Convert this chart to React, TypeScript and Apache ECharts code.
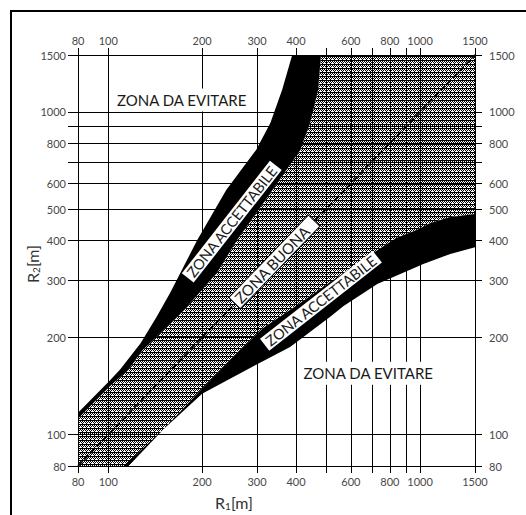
import { useEffect, useRef } from "react";
import * as echarts from "echarts";

// Axis range (both axes are logarithmic, in metres)
const R_MIN = 80;
const R_MAX = 1500;

// Grid lines and labelled values
const xGridValues = [80, 100, 200, 300, 400, 500, 600, 700, 800, 900, 1000, 1500];
const xLabelValues = [80, 100, 200, 300, 400, 600, 800, 1000, 1500];
const yGridValues = [80, 100, 200, 300, 400, 500, 600, 700, 800, 900, 1000, 1500];
const yLabelValues = [80, 100, 200, 300, 400, 500, 600, 800, 1000, 1500];

// Upper "acceptable" band: outer (left) edge and inner edge, [R1, R2]
const upperBandOuter = [
  [80, 117], [101, 147], [109, 159], [127, 192], [143, 232], [158, 275],
  [193, 401], [239, 573], [298, 762], [331, 924], [361, 1169], [389, 1500],
];
const upperBandInner = [
  [80, 112], [101, 141], [116, 159], [129, 183], [143, 201], [179, 249],
  [223, 317], [259, 401], [328, 553], [413, 762], [444, 924], [471, 1169], [481, 1500],
];

// Lower "acceptable" band: inner (upper) edge and outer (lower) edge, [R1, R2]
const lowerBandInner = [
  [116, 80], [152, 105], [200, 139], [265, 183], [314, 214], [404, 252],
  [515, 297], [657, 348], [729, 373], [839, 407], [979, 431], [1078, 453],
  [1250, 472], [1500, 483],
];
const lowerBandOuter = [
  [112, 80], [200, 134], [296, 164], [383, 187], [515, 232], [567, 250],
  [729, 293], [1024, 338], [1250, 363], [1500, 381],
];

// Equal-radius diagonal R1 = R2
const diagonal = [[R_MIN, R_MIN], [R_MAX, R_MAX]];

// Zone captions and where they sit, [R1, R2]
const zoneLabels = ["ZONA DA EVITARE", "ZONA DA EVITARE", "ZONA ACCETTABILE", "ZONA ACCETTABILE", "ZONA BUONA"];
const zoneLabelR1 = [172, 682, 249, 481, 341];
const zoneLabelR2 = [1088, 155, 457, 260, 343];

const labelLook = [
  { angle: 0, size: 15, padding: [4, 4, 4, 4], border: 0 },
  { angle: 0, size: 15, padding: [4, 4, 4, 4], border: 0 },
  { angle: 52, size: 14.5, padding: [0, 3, 0, 3], border: 0 },
  { angle: 38, size: 14.5, padding: [0, 3, 0, 3], border: 0 },
  { angle: 46, size: 15, padding: [0, 10, 0, 3], border: 1 },
];

const FONT = "Lato, 'Noto Sans', sans-serif";

// Halftone tile for the "good" zone: a solid row followed by offset dot rows
function makeStippleTile(): HTMLCanvasElement {
  const rows = ["1111", "1010", "0101", "0010"];
  const c = document.createElement("canvas");
  c.width = 4;
  c.height = rows.length;
  const ctx = c.getContext("2d")!;
  ctx.fillStyle = "#fff";
  ctx.fillRect(0, 0, c.width, c.height);
  ctx.fillStyle = "#000";
  rows.forEach((row, y) => {
    for (let x = 0; x < row.length; x++) if (row[x] === "1") ctx.fillRect(x, y, 1, 1);
  });
  return c;
}

export default function App() {
  const ref = useRef<HTMLDivElement>(null);

  useEffect(() => {
    const el = ref.current;
    if (!el) return;
    const chart = echarts.init(el, null, { renderer: "svg" });
    const tile = makeStippleTile();

    const fmt = (v: number) => String(Math.round(v));
    const lineStyle = { color: "#000", width: 1 };
    const labelStyle = { color: "#484848", fontSize: 11, fontFamily: FONT };

    const xAxisBase = (pos: "bottom" | "top", show: boolean) => ({
      type: "log",
      logBase: 10,
      min: R_MIN,
      max: R_MAX,
      position: pos,
      z: 2,
      axisLine: { show: true, lineStyle },
      axisTick: { show: true, customValues: xGridValues, length: 7, lineStyle },
      axisLabel: { ...labelStyle, customValues: xLabelValues, formatter: fmt, margin: pos === "top" ? 9 : 10 },
      splitLine: { show, lineStyle },
      minorTick: { show: false },
    });
    const yAxisBase = (pos: "left" | "right", show: boolean) => ({
      type: "log",
      logBase: 10,
      min: R_MIN,
      max: R_MAX,
      position: pos,
      z: 2,
      axisLine: { show: true, lineStyle },
      axisTick: { show: true, customValues: yGridValues, length: pos === "left" ? 10 : 7, lineStyle },
      axisLabel: { ...labelStyle, customValues: yLabelValues, formatter: fmt, margin: pos === "left" ? 12 : 14 },
      splitLine: { show, lineStyle },
      minorTick: { show: false },
    });

    const polygon = (pts: number[][], fill: any, z: number) => ({
      type: "custom",
      z,
      silent: true,
      data: [0],
      renderItem: (_p: any, api: any) => ({
        type: "polygon",
        shape: { points: pts.map((p) => api.coord(p)) },
        style: { fill, stroke: null },
      }),
    });

    const stipple = [
      [R_MIN, R_MIN],
      ...upperBandInner,
      [R_MAX, R_MAX],
      ...[...lowerBandInner].reverse(),
    ];
    const upperBand = [...upperBandOuter, ...[...upperBandInner].reverse()];
    const lowerBand = [...lowerBandInner, ...[...lowerBandOuter].reverse()];

    const titleRich = {
      a: { fontSize: 16, fontFamily: FONT, fill: "#333", lineHeight: 18 },
      s: { fontSize: 10, fontFamily: FONT, fill: "#333", lineHeight: 10, verticalAlign: "bottom" },
    };

    const option = {
      animation: false,
      grid: { left: 78, top: 55, right: 51, bottom: 49 },
      xAxis: [xAxisBase("bottom", true), xAxisBase("top", false)],
      yAxis: [yAxisBase("left", true), yAxisBase("right", false)],
      series: [
        polygon(stipple, { image: tile, repeat: "repeat" }, 1),
        polygon(upperBand, "#000", 3),
        polygon(lowerBand, "#000", 3),
        {
          type: "line",
          z: 3,
          silent: true,
          data: diagonal,
          showSymbol: false,
          lineStyle: { color: "#000", width: 1.8, type: [6, 3] },
        },
        {
          type: "custom",
          z: 5,
          silent: true,
          data: zoneLabels.map((_, i) => [zoneLabelR1[i], zoneLabelR2[i]]),
          renderItem: (params: any, api: any) => {
            const i = params.dataIndex;
            const p = api.coord([zoneLabelR1[i], zoneLabelR2[i]]);
            const s = labelLook[i];
            return {
              type: "text",
              x: p[0],
              y: p[1],
              rotation: (s.angle * Math.PI) / 180,
              style: {
                text: zoneLabels[i],
                fontSize: s.size,
                fontFamily: FONT,
                fill: "#1a1a1a",
                align: "center",
                verticalAlign: "middle",
                backgroundColor: "#fff",
                padding: s.padding,
                borderColor: s.border ? "#000" : undefined,
                borderWidth: s.border,
              },
            };
          },
        },
      ],
      graphic: [
        {
          type: "text",
          x: 234,
          y: 502,
          style: { text: "{a|R}{s|1}{a|[m]}", align: "center", verticalAlign: "middle", rich: titleRich },
        },
        {
          type: "text",
          x: 32,
          y: 264,
          rotation: Math.PI / 2,
          style: { text: "{a|R}{s|2}{a|[m]}", align: "center", verticalAlign: "middle", rich: titleRich },
        },
      ],
    };

    chart.setOption(option as any);
    return () => chart.dispose();
  }, []);

  return (
    <div style={{ position: "fixed", left: 0, top: 0, width: 526, height: 515, background: "#fff" }}>
      <div
        style={{
          position: "absolute",
          left: 10,
          top: 10,
          right: 0,
          bottom: 0,
          borderTop: "2px solid #000",
          borderLeft: "2px solid #000",
        }}
      />
      <div ref={ref} style={{ position: "absolute", left: 0, top: 0, width: 526, height: 515 }} />
    </div>
  );
}
